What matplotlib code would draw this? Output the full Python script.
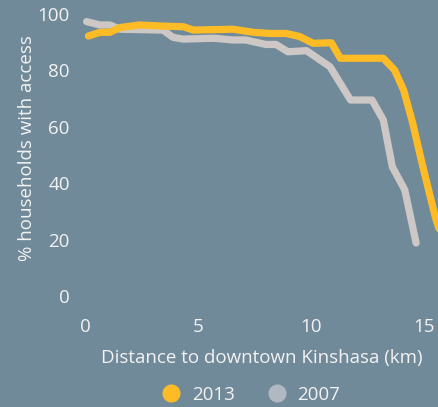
import matplotlib.pyplot as plt
from matplotlib.lines import Line2D

# distance (km) and share of households with access (%)
km_2013 = [0.15, 0.66, 1.1, 1.55, 2.4, 3.45, 4.35, 4.8, 6.55, 7.45, 8.2, 8.9, 9.5,
           10.1, 10.9, 11.3, 13.2, 13.7, 14.1, 14.5, 14.95, 15.5, 15.9]
pct_2013 = [92.2, 93.5, 93.5, 95.2, 96.1, 95.7, 95.5, 94.3, 94.6, 93.5, 93.1, 93.1, 92.0,
            89.6, 89.8, 84.3, 84.3, 80.1, 73.0, 61.3, 45.8, 28.0, 18.0]
km_2007 = [0.07, 0.66, 1.1, 1.55, 3.45, 3.9, 4.35, 5.7, 6.55, 7.1, 8.0, 8.45, 8.98,
           9.8, 10.84, 11.75, 12.7, 13.2, 13.6, 14.15, 14.65]
pct_2007 = [97.3, 96.1, 96.1, 94.6, 94.3, 91.7, 91.1, 91.4, 90.8, 90.8, 89.2, 89.2, 86.6,
            87.0, 81.3, 69.5, 69.5, 62.4, 45.8, 37.6, 18.8]

bg = '#718a9a'
txt = '#f2f2f2'
yellow = '#fdbb26'
grey = '#cdc8c6'
fs = 13.5

plt.rcParams['font.family'] = ['Open Sans', 'DejaVu Sans']

fig = plt.figure(figsize=(4.38, 4.07), dpi=100, facecolor=bg)
ax = fig.add_axes([85/438, 111/407, 1 - 85/438, 1 - 111/407])
ax.set_facecolor(bg)

ax.plot(km_2013, pct_2013, color=yellow, lw=5.2, solid_capstyle='round',
        solid_joinstyle='round', clip_on=False, zorder=3)
ax.plot(km_2007, pct_2007, color=grey, lw=5.2, solid_capstyle='round',
        solid_joinstyle='round', clip_on=False, zorder=2)

ax.set_xlim(0, 353/22.6)
ax.set_ylim(0, 296/2.82)
ax.set_xticks([0, 5, 10, 15])
ax.set_yticks([0, 20, 40, 60, 80, 100])
ax.tick_params(length=0, colors=txt, labelsize=fs)
ax.tick_params(axis='y', pad=11)
ax.tick_params(axis='x', pad=16)
for s in ax.spines.values():
    s.set_visible(False)

ax.set_ylabel('% households with access', color=txt, fontsize=fs, labelpad=1)
ax.set_xlabel('Distance to downtown Kinshasa (km)', color=txt, fontsize=fs, labelpad=9)

handles = [Line2D([], [], ls='', marker='o', ms=12, color=yellow),
           Line2D([], [], ls='', marker='o', ms=12, color='#b0b9c1')]
fig.legend(handles, ['2013', '2007'], loc='center', bbox_to_anchor=(251/438, 12/407),
           ncol=2, frameon=False, fontsize=fs, labelcolor=txt, borderpad=0,
           handlelength=1.0, handletextpad=0.62, columnspacing=1.74)

fig.savefig('out.png', dpi=100, facecolor=bg)
